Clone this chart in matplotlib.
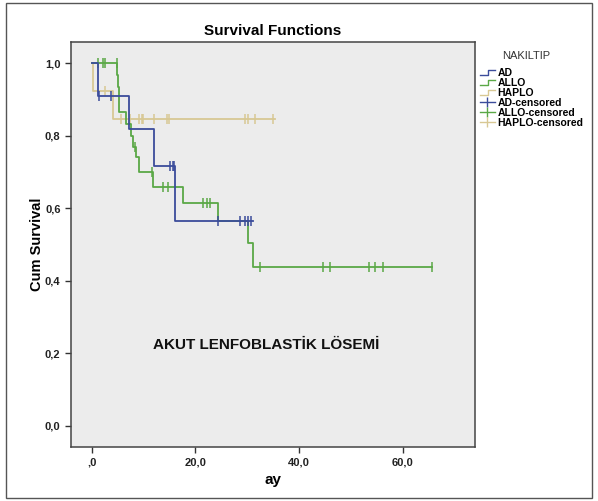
"""
Kaplan-Meier style survival chart (SPSS look) for AKUT LENFOBLASTIK LOSEMI
"""

import numpy as np
import matplotlib
matplotlib.use("Agg")
import matplotlib.pyplot as plt
from matplotlib.lines import Line2D
from matplotlib.legend_handler import HandlerBase
from matplotlib.patches import Rectangle

plt.rcParams['font.family'] = ['Liberation Sans', 'DejaVu Sans']
plt.rcParams['font.weight'] = 'bold'

# Step data: event times (ay) and survival after each step
ad_times = [0, 1.2, 7.2, 12.0, 16.0]
ad_surv = [1.0, 0.909, 0.818, 0.716, 0.566]
ad_end = 31.0
ad_censor = [1.4, 3.8, 15.0, 15.6, 15.9, 24.4, 28.5, 29.5, 30.2, 30.8]

allo_times = [0, 4.9, 5.1, 5.3, 6.7, 7.5, 8.0, 8.6, 9.2, 11.8, 17.6, 24.4, 30.2, 31.0]
allo_surv = [1.0, 0.967, 0.933, 0.866, 0.833, 0.80, 0.77, 0.74, 0.70, 0.659,
             0.615, 0.566, 0.504, 0.437]
allo_end = 65.7
allo_censor = [1.2, 2.2, 2.5, 4.8, 8.3, 11.6, 13.7, 14.7, 21.5, 22.2, 22.8,
               32.5, 44.6, 45.9, 53.5, 54.6, 56.1, 65.7]

haplo_times = [0, 0.3, 4.1]
haplo_surv = [1.0, 0.923, 0.846]
haplo_end = 35.3
haplo_censor = [2.5, 5.7, 7.3, 9.1, 9.6, 9.9, 12.1, 14.5, 14.9, 29.5, 30.1, 31.4, 35.0]

groups = ['AD', 'ALLO', 'HAPLO']
colors = {'AD': '#3b4c9b', 'ALLO': '#5aa846', 'HAPLO': '#d8c894'}

series = {
    'AD': (ad_times, ad_surv, ad_end, ad_censor),
    'ALLO': (allo_times, allo_surv, allo_end, allo_censor),
    'HAPLO': (haplo_times, haplo_surv, haplo_end, haplo_censor),
}


def surv_at(times, surv, t):
    idx = np.searchsorted(times, t, side='right') - 1
    return surv[max(idx, 0)]


fig = plt.figure(figsize=(5.98, 5.01), dpi=100)
ax = fig.add_axes([0.1187, 0.1078, 0.6756, 0.8084])
ax.set_facecolor('#ececec')

# draw in reverse so AD sits on top like the reference
for g in ['HAPLO', 'ALLO', 'AD']:
    times, surv, end, cens = series[g]
    xs = list(times) + [end]
    ys = list(surv) + [surv[-1]]
    ax.step(xs, ys, where='post', color=colors[g], lw=1.3)
    cy = [surv_at(times, surv, t) for t in cens]
    ax.plot(cens, cy, ls='none', marker='|', ms=7, mew=1.1, color=colors[g])

ax.set_xlim(-4.0, 73.9)
ax.set_ylim(-0.058, 1.058)
ax.set_xticks([0, 20, 40, 60])
ax.set_yticks([0, 0.2, 0.4, 0.6, 0.8, 1.0])


def fmt(v):
    s = f"{v:.1f}".replace('.', ',')
    return ',0' if abs(v) < 1e-9 else s


ax.set_xticklabels([fmt(v) for v in [0, 20, 40, 60]])
ax.set_yticklabels([f"{v:.1f}".replace('.', ',') for v in [0, 0.2, 0.4, 0.6, 0.8, 1.0]])
ax.tick_params(labelsize=8, length=4, width=1, color='#333333', labelcolor='#222222')
for s in ax.spines.values():
    s.set_color('#444444')
    s.set_linewidth(1.1)

ax.set_title('Survival Functions', fontsize=11, fontweight='bold', pad=5)
ax.set_xlabel('ay', fontsize=11, fontweight='bold', labelpad=4)
ax.set_ylabel('Cum Survival', fontsize=10.5, fontweight='bold', labelpad=1)

ax.text(11.8, 0.223, 'AKUT LENFOBLASTİK LÖSEMİ', fontsize=11, fontweight='bold',
        va='center', ha='left', color='#111111')


class StepHandler(HandlerBase):
    def create_artists(self, legend, orig_handle, xdescent, ydescent,
                       width, height, fontsize, trans):
        x0 = -xdescent
        y0 = -ydescent + height * 0.15
        y1 = -ydescent + height * 0.85
        xs = [x0, x0 + width * 0.55, x0 + width * 0.55, x0 + width]
        ys = [y0, y0, y1, y1]
        ln = Line2D(xs, ys, color=orig_handle.get_color(), lw=1.0, transform=trans)
        return [ln]


handles = [Line2D([], [], color=colors[g], lw=1.0) for g in groups]
handles += [Line2D([], [], color=colors[g], lw=1.0, marker='|', ms=7, mew=1.0)
            for g in groups]
labels = groups + [g + '-censored' for g in groups]
hmap = {h: StepHandler() for h in handles[:3]}

# legend title placed on its own, entries below it
fig.text(502 / 598, 1 - 56 / 501, 'NAKILTIP', fontsize=8, fontweight='normal',
         ha='left', va='center', color='#333333')
leg = fig.legend(handles, labels, loc='upper left', bbox_to_anchor=(0.802, 1 - 68 / 501),
                 frameon=False, fontsize=7.5, handlelength=1.5, handletextpad=0.2,
                 labelspacing=0.0, numpoints=1, handler_map=hmap, borderaxespad=0,
                 borderpad=0)
for t in leg.get_texts():
    t.set_fontweight('bold')

# thin frame around the whole figure
fig.patches.append(Rectangle((0.01, 0.006), 0.98, 0.988, transform=fig.transFigure,
                             fill=False, edgecolor='#555555', lw=1.0))

fig.savefig('out.png', dpi=100)
